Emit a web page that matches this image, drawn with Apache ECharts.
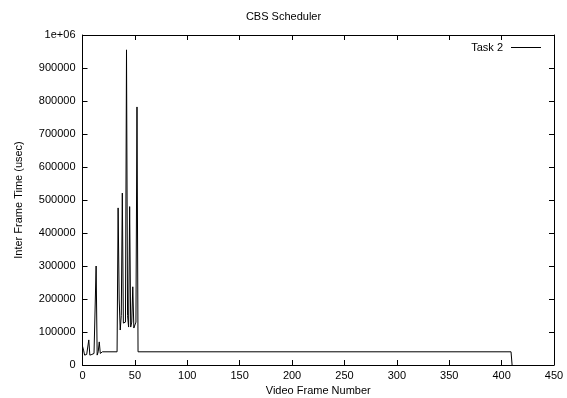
<!DOCTYPE html>
<html>
<head>
<meta charset="utf-8">
<script src="https://cdn.jsdelivr.net/npm/echarts@6/dist/echarts.min.js"></script>
<style>html,body{margin:0;padding:0;background:#fff}#c{width:567px;height:398px}</style>
</head>
<body>
<div id="c"></div>
<script>
// Video frame numbers and inter-frame times (usec)
var frames = [0,1,2,3,4,5,6,7,8,9,10,11,12,13,14,15,16,17,18,19,
  33,34,35,36,37,38,39,40,41,42,43,44,45,46,47,48,49,50,51,52,53,409,410];
var times = [57000,45000,30000,28000,32000,35000,76000,30000,28000,32000,30000,35000,35000,300000,30000,40000,70000,35000,40000,40000,
  40000,476000,200000,106000,150000,521000,127000,127000,130000,955000,150000,115000,480000,115000,130000,237000,112000,112000,130000,782000,40000,40000,0];
var xTicks = [0,50,100,150,200,250,300,350,400,450];
var yTicks = [0,100000,200000,300000,400000,500000,600000,700000,800000,900000,1000000];
var seriesName = 'Task 2';

var data = frames.map(function(f,i){return [f, times[i]];});
var font = 'Liberation Sans, Arial, sans-serif';
var chart = echarts.init(document.getElementById('c'), null, {renderer:'canvas'});
function yFmt(v){return v===1000000?'1e+06':String(v);}
var common = {min:xTicks[0], max:xTicks[xTicks.length-1], interval:50};
var ycommon = {min:yTicks[0], max:yTicks[yTicks.length-1], interval:100000};
chart.setOption({
  animation:false,
  backgroundColor:'#fff',
  title:{text:'CBS Scheduler', left:'center', top:6, textStyle:{fontFamily:font, fontSize:11, fontWeight:'normal', color:'#000'}},
  legend:{data:[{name:seriesName, icon:'rect'}], right:21, top:37, align:'right', itemWidth:30, itemHeight:1,
    textStyle:{fontFamily:font, fontSize:11, color:'#000', padding:[0,3,0,0]}},
  grid:{left:82.5, right:13, top:35, bottom:33, containLabel:false, outerBoundsMode:'none'},
  xAxis:[
    Object.assign({type:'value', position:'bottom', name:'Video Frame Number', nameLocation:'middle', nameGap:17,
      nameTextStyle:{fontFamily:font, fontSize:11, color:'#000'},
      axisLine:{show:true, onZero:false, lineStyle:{color:'#000', width:1}},
      axisTick:{show:true, inside:true, length:5, lineStyle:{color:'#000'}},
      axisLabel:{show:true, fontFamily:font, fontSize:11, color:'#000', margin:5},
      splitLine:{show:false}}, common),
    Object.assign({type:'value', position:'top',
      axisLine:{show:true, onZero:false, lineStyle:{color:'#000', width:1}},
      axisTick:{show:true, inside:true, length:5, lineStyle:{color:'#000'}},
      axisLabel:{show:false}, splitLine:{show:false}}, common)
  ],
  yAxis:[
    Object.assign({type:'value', position:'left', name:'Inter Frame Time (usec)', nameLocation:'middle', nameGap:58,
      nameTextStyle:{fontFamily:font, fontSize:11, color:'#000'},
      axisLine:{show:true, onZero:false, lineStyle:{color:'#000', width:1}},
      axisTick:{show:true, inside:true, length:5, lineStyle:{color:'#000'}},
      axisLabel:{show:true, fontFamily:font, fontSize:11, color:'#000', margin:7, formatter:yFmt},
      splitLine:{show:false}}, ycommon),
    Object.assign({type:'value', position:'right',
      axisLine:{show:true, onZero:false, lineStyle:{color:'#000', width:1}},
      axisTick:{show:true, inside:true, length:5, lineStyle:{color:'#000'}},
      axisLabel:{show:false}, splitLine:{show:false}}, ycommon)
  ],
  series:[{name:seriesName, type:'line', xAxisIndex:0, yAxisIndex:0, data:data, showSymbol:false, symbol:'none',
    lineStyle:{color:'#000', width:1}, itemStyle:{color:'#000'}}]
});
</script>
</body>
</html>
